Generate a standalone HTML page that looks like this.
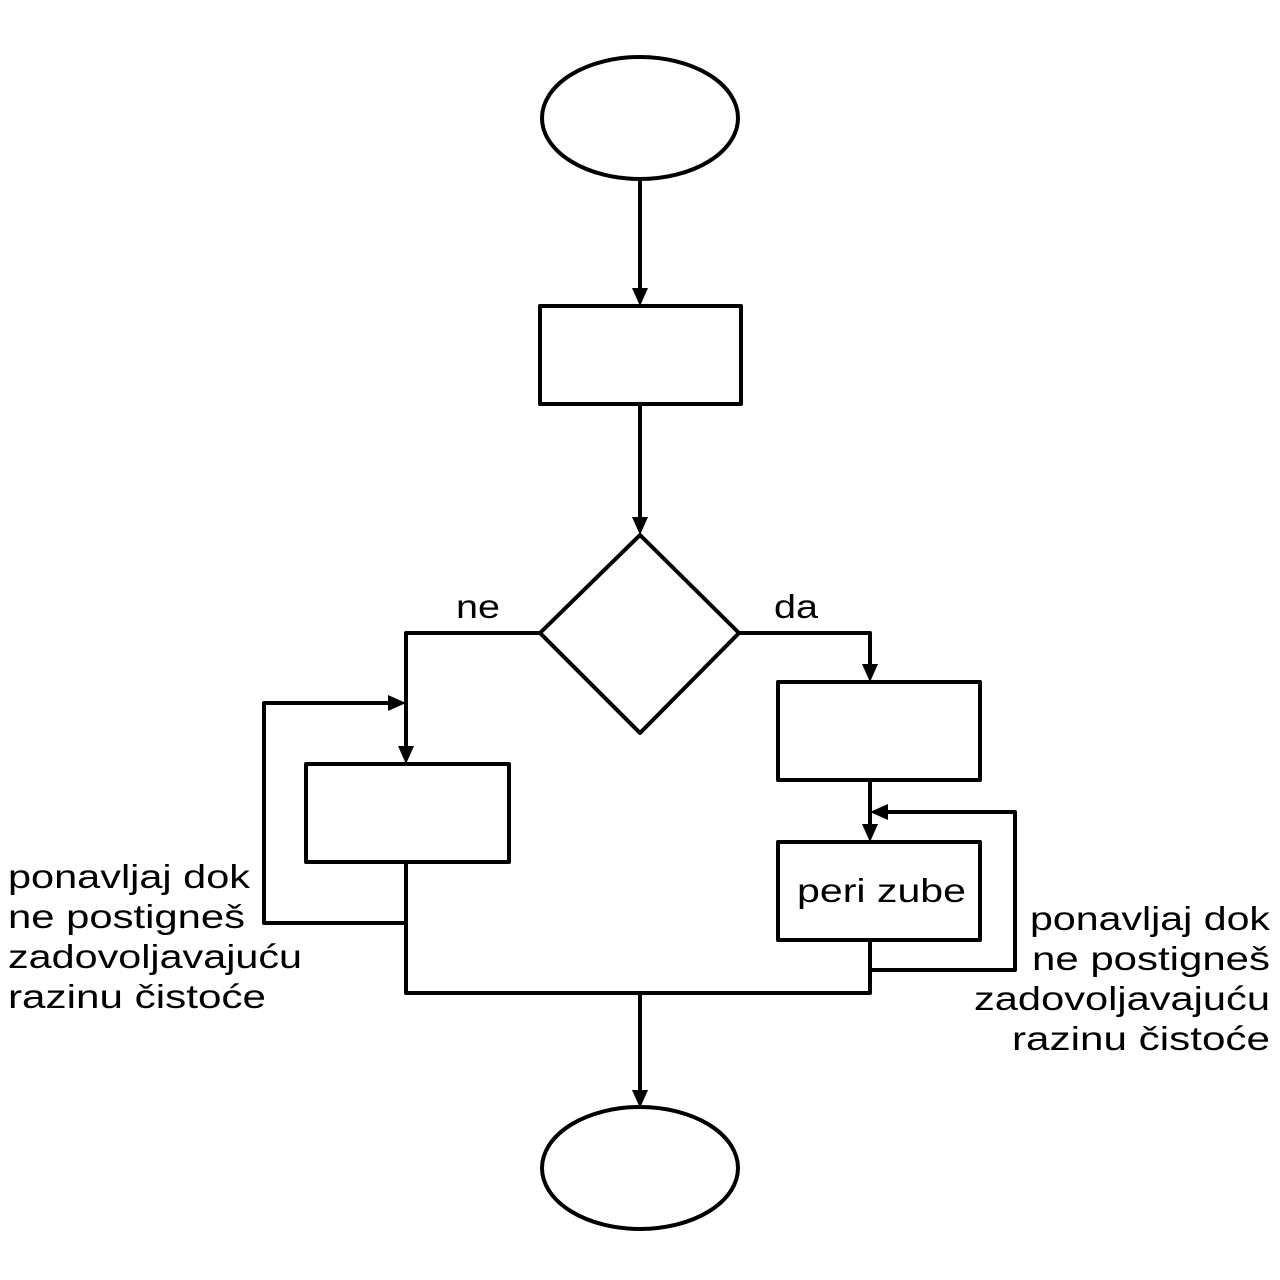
<!DOCTYPE html>
<html><head><meta charset="utf-8"><style>
html,body{margin:0;padding:0;background:#fff;}
svg{display:block;}
text{font-family:"Liberation Sans","DejaVu Sans",sans-serif;font-size:33px;fill:#000;}
</style></head><body>
<svg width="1280" height="1280" viewBox="0 0 1280 1280" xmlns="http://www.w3.org/2000/svg">
<g fill="none" stroke="#000" stroke-width="4" stroke-linejoin="round">
<ellipse cx="640" cy="118" rx="98" ry="61"/>
<rect x="540" y="306" width="201" height="98"/>
<polygon points="640,535 739,633 640,733 540,633"/>
<rect x="306" y="764" width="203" height="98"/>
<rect x="778" y="682" width="202" height="98"/>
<rect x="778" y="842" width="202" height="98"/>
<ellipse cx="640" cy="1168" rx="98" ry="61"/>
<path d="M640 180V292"/>
<path d="M640 404V521"/>
<path d="M540 633H406V750"/>
<path d="M739 633H870V668"/>
<path d="M870 780V828"/>
<path d="M870 940V970H1015V812H884"/>
<path d="M406 862V923H264V703H392"/>
<path d="M406 862V993H870V940"/>
<path d="M640 993V1094"/>
</g>
<g fill="#000">
<polygon points="632,288 648,288 640,306"/>
<polygon points="632,517 648,517 640,535"/>
<polygon points="398,746 414,746 406,764"/>
<polygon points="862,664 878,664 870,682"/>
<polygon points="862,824 878,824 870,842"/>
<polygon points="888,804 888,820 870,812"/>
<polygon points="388,695 388,711 406,703"/>
<polygon points="632,1090 648,1090 640,1108"/>
</g>
<text x="456" y="618" textLength="44" lengthAdjust="spacingAndGlyphs">ne</text>
<text x="774" y="618" textLength="44" lengthAdjust="spacingAndGlyphs">da</text>
<text x="797" y="902" textLength="169" lengthAdjust="spacingAndGlyphs">peri zube</text>
<text x="8" y="888" textLength="242" lengthAdjust="spacingAndGlyphs">ponavljaj dok</text>
<text x="8" y="928" textLength="237" lengthAdjust="spacingAndGlyphs">ne postigneš</text>
<text x="8" y="968" textLength="294" lengthAdjust="spacingAndGlyphs">zadovoljavajuću</text>
<text x="8" y="1008" textLength="258" lengthAdjust="spacingAndGlyphs">razinu čistoće</text>
<text x="1030" y="930" textLength="240" lengthAdjust="spacingAndGlyphs">ponavljaj dok</text>
<text x="1032" y="970" textLength="238" lengthAdjust="spacingAndGlyphs">ne postigneš</text>
<text x="974" y="1010" textLength="296" lengthAdjust="spacingAndGlyphs">zadovoljavajuću</text>
<text x="1012" y="1050" textLength="258" lengthAdjust="spacingAndGlyphs">razinu čistoće</text>
</svg>
</body></html>
